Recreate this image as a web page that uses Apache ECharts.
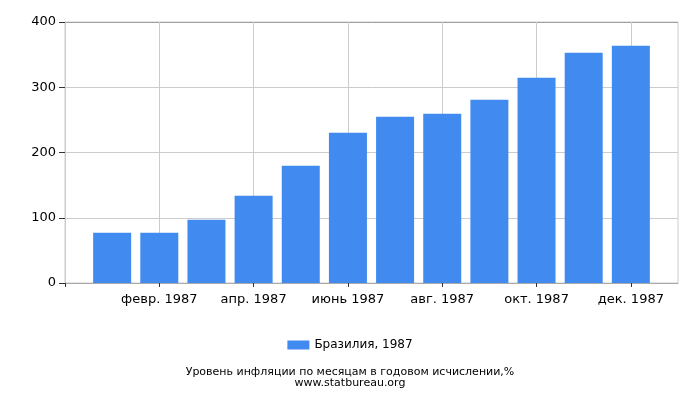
<!DOCTYPE html>
<html><head><meta charset="utf-8">
<script src="https://cdn.jsdelivr.net/npm/echarts@6/dist/echarts.min.js"></script>
<style>html,body{margin:0;padding:0;background:#fff}#c{width:700px;height:400px}</style>
</head><body><div id="c"></div>
<script>
const categories = ['', 'янв. 1987', 'февр. 1987', 'март 1987', 'апр. 1987', 'май 1987', 'июнь 1987', 'июль 1987', 'авг. 1987', 'сент. 1987', 'окт. 1987', 'нояб. 1987', 'дек. 1987', ''];
const values = [null, 77.1, 77.1, 97.1, 133.8, 179.8, 230.4, 254.9, 259.5, 281.0, 314.7, 353.0, 363.7, null];
const yTicks = [0, 100, 200, 300, 400];
const seriesName = 'Бразилия, 1987';
const titleText = 'Уровень инфляции по месяцам в годовом исчислении,%';
const sourceText = 'www.statbureau.org';

const chart = echarts.init(document.getElementById('c'), null, {renderer: 'canvas'});
const font = 'DejaVu Sans';
chart.setOption({
  animation: false,
  textStyle: {fontFamily: font},
  grid: {left: 65, right: 22, top: 22, bottom: 117, show: true, borderColor: '#cccccc', borderWidth: 1},
  title: [
    {text: titleText, left: 'center', top: 362, textStyle: {fontFamily: font, fontSize: 11, fontWeight: 'normal', color: '#000'}},
    {text: sourceText, left: 'center', top: 373, textStyle: {fontFamily: font, fontSize: 11, fontWeight: 'normal', color: '#000'}}
  ],
  legend: {
    data: [seriesName], left: 'center', top: 334, itemWidth: 22, itemHeight: 9, itemGap: 5,
    icon: 'rect', textStyle: {fontFamily: font, fontSize: 12, color: '#000'}
  },
  xAxis: {
    type: 'category', data: categories, boundaryGap: false,
    axisLine: {lineStyle: {color: '#aaaaaa'}},
    axisTick: {interval: 1, length: 4, lineStyle: {color: '#333'}},
    axisLabel: {interval: 1, margin: 10, fontSize: 13, color: '#000', fontFamily: font},
    splitLine: {show: true, interval: 1, lineStyle: {color: '#cccccc'}}
  },
  yAxis: {
    type: 'value', min: yTicks[0], max: yTicks[yTicks.length - 1], interval: 100,
    axisLine: {show: true, lineStyle: {color: '#cccccc'}},
    axisTick: {show: true, length: 6, lineStyle: {color: '#333'}},
    axisLabel: {margin: 9, fontSize: 13, color: '#000', fontFamily: font},
    splitLine: {lineStyle: {color: ['#cccccc', '#cccccc', '#cccccc', '#cccccc', '#a0a0a0']}}
  },
  series: [{
    name: seriesName, type: 'bar', data: values, barWidth: 38,
    itemStyle: {color: '#418af0'}
  }]
});
</script></body></html>
